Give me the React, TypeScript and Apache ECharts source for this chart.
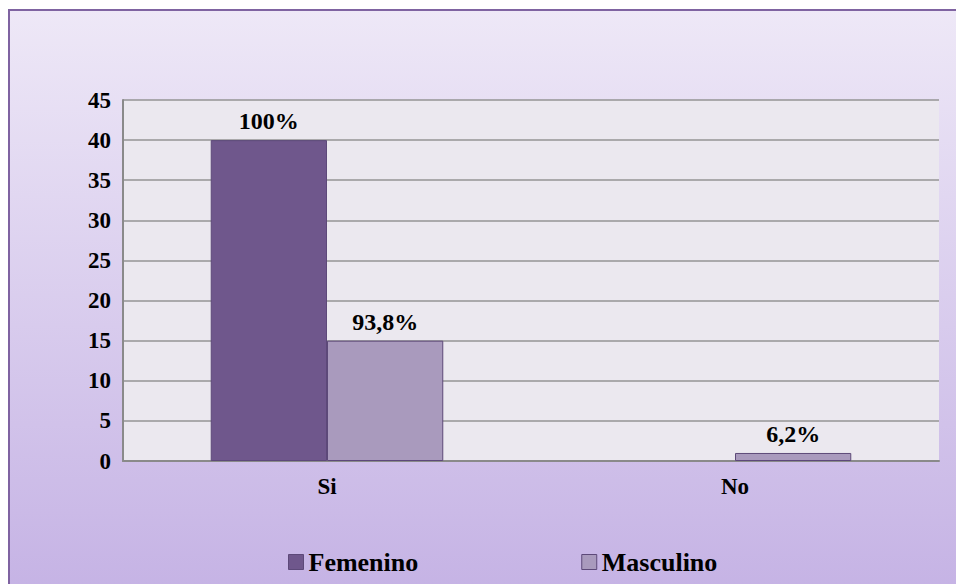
import React, { useEffect, useRef } from "react";
import * as echarts from "echarts";

const categories = ["Si", "No"];
const femenino = [40, 0];
const masculino = [15, 1];
const femeninoLabels = ["100%", ""];
const masculinoLabels = ["93,8%", "6,2%"];
const yTicks = { min: 0, max: 45, interval: 5 };

const FONT = "Liberation Serif";

const toData = (arr: number[]) =>
  arr.map((v) => (v === 0 ? { value: v, itemStyle: { borderWidth: 0 } } : v));

export default function App() {
  const ref = useRef<HTMLDivElement>(null);
  useEffect(() => {
    if (!ref.current) return;
    const chart = echarts.init(ref.current, null, { renderer: "svg" });
    const labelStyle = {
      show: true,
      position: "top",
      distance: 7,
      fontSize: 24,
      fontWeight: "bold",
      fontFamily: FONT,
      color: "#000",
    };
    chart.setOption({
      animation: false,
      textStyle: { fontFamily: FONT },
      graphic: [
        {
          type: "rect",
          z: -10,
          silent: true,
          shape: { x: 9, y: 10, width: 960, height: 600 },
          style: {
            fill: new echarts.graphic.LinearGradient(0, 0, 0, 1, [
              { offset: 0, color: "#eee8f7" },
              { offset: 1, color: "#c4b1e4" },
            ]),
            stroke: "#7f63a1",
            lineWidth: 2,
          },
        },
      ],
      grid: {
        left: 123,
        right: 17,
        top: 100,
        bottom: 123,
        show: true,
        backgroundColor: "#ebe8ef",
        borderWidth: 0,
      },
      legend: {
        left: 283,
        top: 544,
        icon: "rect",
        itemWidth: 15,
        itemHeight: 15,
        itemGap: 163,
        itemStyle: { borderColor: "#5d4979", borderWidth: 1 },
        textStyle: {
          fontSize: 26,
          fontWeight: "bold",
          fontFamily: FONT,
          color: "#000",
        },
        data: ["Femenino", "Masculino"],
      },
      xAxis: {
        type: "category",
        data: categories,
        axisLine: { show: true, lineStyle: { color: "#8a8a8a", width: 2 } },
        axisTick: { show: false },
        axisLabel: {
          margin: 14,
          fontSize: 23,
          fontWeight: "bold",
          fontFamily: FONT,
          color: "#000",
        },
      },
      yAxis: {
        type: "value",
        min: yTicks.min,
        max: yTicks.max,
        interval: yTicks.interval,
        axisLine: { show: true, lineStyle: { color: "#8a8a8a", width: 2 } },
        axisTick: { show: false },
        splitLine: { show: true, lineStyle: { color: "#959595", width: 1.5 } },
        axisLabel: {
          margin: 12,
          fontSize: 23,
          fontWeight: "bold",
          fontFamily: FONT,
          color: "#000",
        },
      },
      series: [
        {
          name: "Femenino",
          type: "bar",
          data: toData(femenino),
          barGap: "0%",
          barCategoryGap: "43%",
          itemStyle: { color: "#6f578c", borderColor: "#5d4979", borderWidth: 1 },
          label: {
            ...labelStyle,
            formatter: (p: any) => femeninoLabels[p.dataIndex],
          },
        },
        {
          name: "Masculino",
          type: "bar",
          data: toData(masculino),
          itemStyle: { color: "#a99abd", borderColor: "#5d4979", borderWidth: 1 },
          label: {
            ...labelStyle,
            formatter: (p: any) => masculinoLabels[p.dataIndex],
          },
        },
      ],
    });
    return () => chart.dispose();
  }, []);
  return (
    <div
      ref={ref}
      style={{ position: "absolute", left: 0, top: 0, width: 956, height: 584 }}
    />
  );
}
